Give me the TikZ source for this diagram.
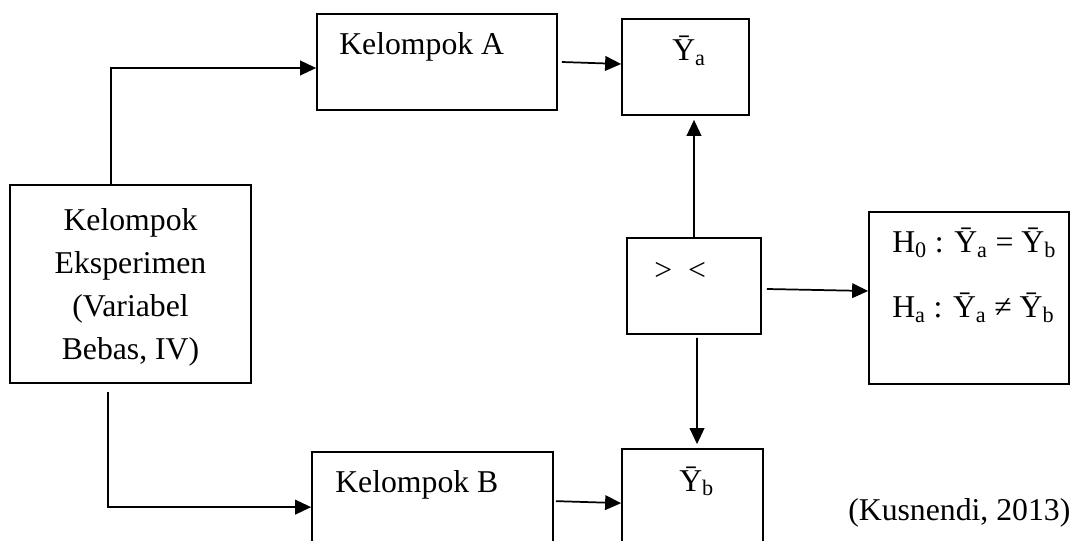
\documentclass[tikz,border=0pt]{standalone}
\usepackage{fontspec}
\setmainfont{Liberation Serif}
\usetikzlibrary{arrows.meta,fit}
\tikzset{
  box/.style={draw, line width=1.3pt, inner sep=0pt, rectangle},
  arr/.style={line width=1.3pt, -{Triangle[length=12pt,width=11pt]}},
  lbl/.style={inner sep=0pt, font=\fontsize{23.8}{32.25}\selectfont},
}
\begin{document}
\begin{tikzpicture}[x=0.75pt,y=-0.75pt]
\useasboundingbox (0,0) rectangle (1078,541);
\clip (0,0) rectangle (1078,541);
% boxes
\node[box, fit={(10,185) (251,383)}] (E) {};
\node[box, fit={(317,14) (557,110)}] (A) {};
\node[box, fit={(622,19) (749,115)}] (Ya) {};
\node[box, fit={(627,238) (761,334)}] (GL) {};
\node[box, fit={(869,212) (1069,384)}] (H) {};
\node[box, fit={(312,452) (553,570)}] (B) {};
\node[box, fit={(622,449) (763,570)}] (Yb) {};
% texts
\node[lbl, align=center, anchor=north] (tE) at (130.5,208) {Kelompok\\Eksperimen\\(Variabel\\Bebas, IV)};
\node[lbl, anchor=base west] (tA) at (339,55) {Kelompok A};
\node[lbl, anchor=base west] (tB) at (335,492) {Kelompok B};
\node[lbl, anchor=base west] (tYa) at (672,61) {\=Y\textsubscript{a}};
\node[lbl, anchor=base west] (tYb) at (679,491) {\=Y\textsubscript{b}};
\node[lbl, anchor=base west] (tGL) at (654,281) {>\ \ <};
\node[lbl, anchor=base west] (tH0) at (892,253) {H\textsubscript{0} : \=Y\textsubscript{a} = \=Y\textsubscript{b}};
\node[lbl, anchor=base west] (tHa) at (892,318) {H\textsubscript{a} : \=Y\textsubscript{a} ≠ \=Y\textsubscript{b}};
\node[lbl, anchor=base west] (src) at (848,520) {(Kusnendi, 2013)};
% connectors
\draw[arr] ([xshift=76.5pt]E.north west) |- ([yshift=-4.5pt]A.west);
\draw[arr] ([xshift=3pt]A.east) -- ([yshift=2.25pt]Ya.west);
\draw[arr] (GL.north) -- ([yshift=-3pt]Ya.south -| GL.north);
\draw[arr] ([xshift=2.25pt,yshift=-2.25pt]GL.south) -- ([xshift=3.4pt,yshift=3pt]Yb.north);
\draw[arr] ([xshift=3.75pt,yshift=-2.25pt]GL.east) -- ([yshift=5.25pt]H.west);
\draw[arr] ([xshift=74.25pt,yshift=-6pt]E.south west) |- ([yshift=-42pt]B.north west);
\draw[arr] ([xshift=1.5pt,yshift=-37.5pt]B.north east) -- ([yshift=-41.25pt]Yb.north west);
\end{tikzpicture}
\end{document}
